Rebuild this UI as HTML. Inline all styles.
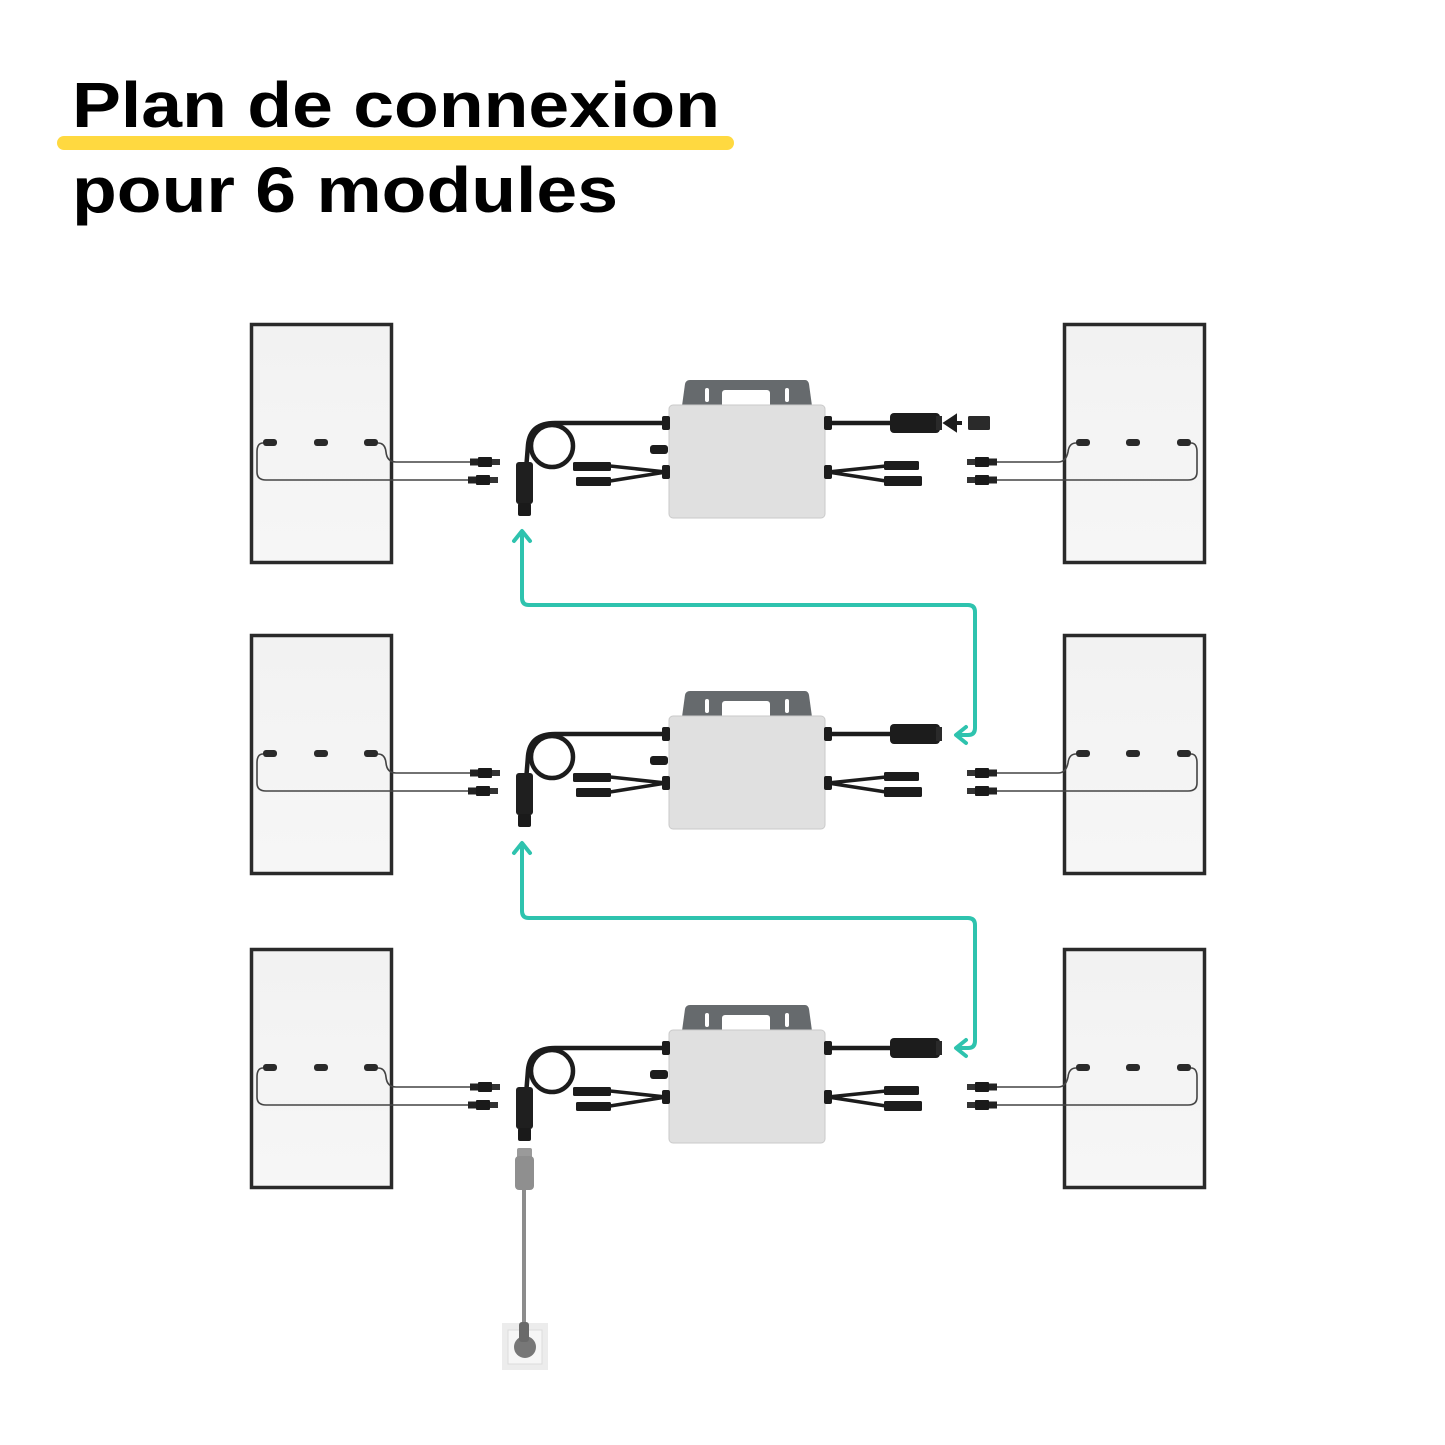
<!DOCTYPE html>
<html><head><meta charset="utf-8"><style>html,body{margin:0;padding:0;background:#fff;}svg{display:block}</style></head>
<body>
<svg width="1445" height="1445" viewBox="0 0 1445 1445" xmlns="http://www.w3.org/2000/svg">
<defs>
<linearGradient id="pg" x1="0" y1="0" x2="0" y2="1"><stop offset="0" stop-color="#f2f2f2"/><stop offset="1" stop-color="#f6f6f6"/></linearGradient>
<g id="con">
  <rect x="0" y="-3.5" width="8" height="7" fill="#222"/>
  <rect x="8" y="-5" width="14" height="10" rx="1" fill="#1a1a1a"/>
  <rect x="22" y="-3" width="8" height="6" fill="#333"/>
</g>
<g id="row">
  <rect x="251.5" y="324.5" width="140" height="238" fill="url(#pg)" stroke="#2a2a2a" stroke-width="3.5"/>
  <rect x="263" y="439" width="14" height="7" rx="3" fill="#2a2a2a"/>
  <rect x="314" y="439" width="14" height="7" rx="3" fill="#2a2a2a"/>
  <rect x="364" y="439" width="14" height="7" rx="3" fill="#2a2a2a"/>
  <path d="M378 443 Q385 443 386 452 Q387 462 396 462 L472 462" fill="none" stroke="#444" stroke-width="1.6"/>
  <path d="M263 443 Q257 443 257 452 L257 472 Q257 480 266 480 L470 480" fill="none" stroke="#444" stroke-width="1.6"/>
  <use href="#con" transform="translate(470,462)"/>
  <use href="#con" transform="translate(468,480)"/>
  <rect x="1064.5" y="324.5" width="140" height="238" fill="url(#pg)" stroke="#2a2a2a" stroke-width="3.5"/>
  <rect x="1076" y="439" width="14" height="7" rx="3" fill="#2a2a2a"/>
  <rect x="1126" y="439" width="14" height="7" rx="3" fill="#2a2a2a"/>
  <rect x="1177" y="439" width="14" height="7" rx="3" fill="#2a2a2a"/>
  <path d="M1076 443 Q1069 443 1068 452 Q1066 462 1058 462 L990 462" fill="none" stroke="#444" stroke-width="1.6"/>
  <path d="M1191 443 Q1197 443 1197 452 L1197 472 Q1197 480 1188 480 L995 480" fill="none" stroke="#444" stroke-width="1.6"/>
  <use href="#con" transform="translate(997,462) scale(-1,1)"/>
  <use href="#con" transform="translate(997,480) scale(-1,1)"/>
  <path d="M690 380 L805 380 Q808 380 809 384 L812 406 L682 406 L685 384 Q686 380 690 380 Z" fill="#666a6d"/>
  <rect x="722" y="390" width="48" height="18" rx="3" fill="#fff"/>
  <rect x="705" y="388" width="4" height="14" rx="2" fill="#fff"/>
  <rect x="785" y="388" width="4" height="14" rx="2" fill="#fff"/>
  <rect x="669" y="405" width="156" height="113" rx="4" fill="#e0e0e0" stroke="#cacaca" stroke-width="1"/>
  <path d="M666 423 L555 423 Q530 423 528 445 L526 470" fill="none" stroke="#1c1c1c" stroke-width="4.5"/>
  <circle cx="552" cy="446" r="21" fill="none" stroke="#1c1c1c" stroke-width="4.5"/>
  <rect x="662" y="416" width="8" height="14" rx="2" fill="#1c1c1c"/>
  <rect x="516" y="462" width="17" height="42" rx="3" fill="#1f1f1f"/>
  <rect x="518" y="503" width="13" height="13" rx="2" fill="#1a1a1a"/>
  <rect x="650" y="445" width="18" height="9" rx="3" fill="#1c1c1c"/>
  <path d="M666 472 L610 466 M666 472 L610 481" stroke="#1c1c1c" stroke-width="3.5"/>
  <rect x="662" y="465" width="8" height="14" rx="2" fill="#1c1c1c"/>
  <rect x="573" y="462" width="38" height="9" rx="1.5" fill="#1c1c1c"/>
  <rect x="576" y="477" width="35" height="9" rx="1.5" fill="#1c1c1c"/>
  <path d="M828 472 L886 466 M828 472 L886 481" stroke="#1c1c1c" stroke-width="3.5"/>
  <rect x="824" y="465" width="8" height="14" rx="2" fill="#1c1c1c"/>
  <rect x="884" y="461" width="35" height="9" rx="1.5" fill="#1c1c1c"/>
  <rect x="884" y="476" width="38" height="10" rx="1.5" fill="#1c1c1c"/>
  <rect x="824" y="416" width="8" height="14" rx="2" fill="#1c1c1c"/>
  <path d="M830 423 L892 423" stroke="#1c1c1c" stroke-width="4.5"/>
  <rect x="890" y="413" width="50" height="20" rx="4" fill="#1c1c1c"/>
  <rect x="936" y="416" width="6" height="14" fill="#2a2a2a"/>
</g>
</defs>

<text x="72" y="127" font-family="Liberation Sans, sans-serif" font-weight="700" font-size="64" fill="#000" textLength="648" lengthAdjust="spacingAndGlyphs">Plan de connexion</text>
<line x1="64" y1="143" x2="727" y2="143" stroke="#ffd940" stroke-width="14" stroke-linecap="round"/>
<text x="72" y="212" font-family="Liberation Sans, sans-serif" font-weight="700" font-size="64" fill="#000" textLength="546" lengthAdjust="spacingAndGlyphs">pour 6 modules</text>

<use href="#row"/>
<use href="#row" transform="translate(0,311)"/>
<use href="#row" transform="translate(0,625)"/>

<path d="M962 423 L955 423 M955 417 L946 423 L955 429 Z" fill="#1c1c1c" stroke="#1c1c1c" stroke-width="4"/>
<rect x="968" y="416" width="22" height="14" rx="1.5" fill="#2a2a2a"/>

<g fill="none" stroke="#2ec3ae" stroke-width="4" stroke-linejoin="round" stroke-linecap="round">
  <path d="M522 533 L522 598 Q522 605 529 605 L968 605 Q975 605 975 612 L975 728 Q975 735 968 735 L958 735"/>
  <path d="M514 541 L522 531 L530 541"/>
  <path d="M966 727 L956 735 L966 743"/>
  <path d="M522 845 L522 911 Q522 918 529 918 L968 918 Q975 918 975 925 L975 1041 Q975 1048 968 1048 L958 1048"/>
  <path d="M514 853 L522 843 L530 853"/>
  <path d="M966 1040 L956 1048 L966 1056"/>
</g>

<rect x="517" y="1148" width="15" height="10" rx="2" fill="#9a9a9a"/>
<rect x="515" y="1156" width="19" height="34" rx="4" fill="#8f8f8f"/>
<line x1="524" y1="1190" x2="524" y2="1330" stroke="#8c8c8c" stroke-width="4"/>
<rect x="502" y="1323" width="46" height="47" fill="#ececec"/>
<rect x="508" y="1330" width="34" height="34" fill="#f6f6f6" stroke="#dcdcdc" stroke-width="1"/>
<circle cx="525" cy="1347" r="11" fill="#777"/>
<rect x="519" y="1322" width="10" height="20" rx="3" fill="#6a6a6a"/>
</svg>
</body></html>
